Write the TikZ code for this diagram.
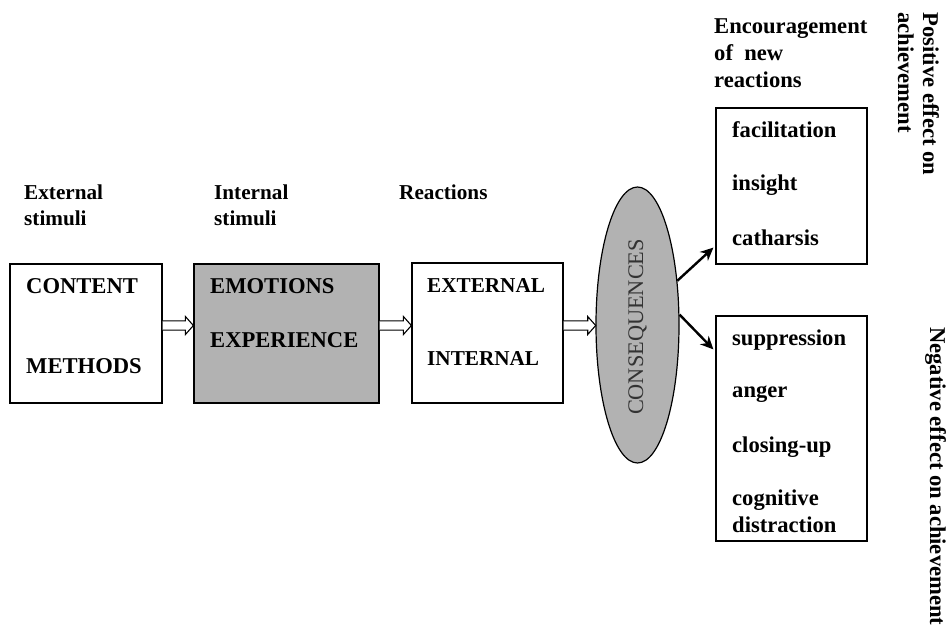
\documentclass[tikz,border=0pt]{standalone}
\usepackage{fontspec}
\setmainfont{Liberation Serif}
\usetikzlibrary{calc,shapes.geometric,arrows.meta}
\definecolor{boxgray}{HTML}{B2B2B2}
\definecolor{txtgray}{HTML}{333333}
\begin{document}
\begin{tikzpicture}[x=1pt,y=-1pt,
 every node/.style={inner sep=0pt},
 fbig/.style={font=\fontsize{22.6}{27}\selectfont\bfseries, anchor=base west},
 fsmall/.style={font=\fontsize{21.2}{26}\selectfont\bfseries, anchor=base west},
 box/.style={draw, line width=1.2pt, inner sep=0pt},
 hollow/.style={draw, fill=white, line width=1.1pt, line join=miter,
   to path={let \p1=(\tikztostart), \p2=(\tikztotarget) in
   (\x1,\y1+4.6pt) -- (\x2-8pt,\y1+4.6pt) -- (\x2-8pt,\y1+9pt) -- (\x2,\y1)
   -- (\x2-8pt,\y1-9pt) -- (\x2-8pt,\y1-4.6pt) -- (\x1,\y1-4.6pt)}},
 arr/.style={line width=2.4pt, -{Stealth[length=13pt,width=12pt]}}
]
\useasboundingbox (0,0) rectangle (946,625);

% boxes
\node[box, minimum width=152pt, minimum height=139pt] (b1) at (86,333.5) {};
\node[box, fill=boxgray, minimum width=185pt, minimum height=139pt] (b2) at (286.5,333.5) {};
\node[box, minimum width=151pt, minimum height=140pt] (b3) at (487.5,333) {};
\node[box, ellipse, fill=boxgray, minimum width=83pt, minimum height=276pt] (cons) at (637.5,325) {};
\node[box, minimum width=151pt, minimum height=156pt] (pos) at (791.5,186) {};
\node[box, minimum width=151pt, minimum height=225pt] (neg) at (791.5,428.5) {};

% headings
\node[fsmall] (h1a) at (24,199) {External};
\node[fsmall] (h1b) at (24,225) {stimuli};
\node[fsmall] (h2a) at (214,199) {Internal};
\node[fsmall] (h2b) at (214,225) {stimuli};
\node[fsmall] (h3a) at (399,199) {Reactions};
\node[fbig] (h4a) at (714,33) {Encouragement};
\node[fbig] (h4b) at (714,60) {of\ \ new};
\node[fbig] (h4c) at (714,87) {reactions};

% box texts
\node[fbig] (t1a) at (26,293) {CONTENT};
\node[fbig] (t1b) at (26,373) {METHODS};
\node[fbig] (t2a) at (210,293) {EMOTIONS};
\node[fbig] (t2b) at (210,347) {EXPERIENCE};
\node[fsmall] (t3a) at (427,292) {EXTERNAL};
\node[fsmall] (t3b) at (427,365) {INTERNAL};
\node[font=\fontsize{22.3}{26}\selectfont, text=txtgray, rotate=90] (ct) at (637.5,327) {CONSEQUENCES};

\node[fbig] (p1) at (732,137) {facilitation};
\node[fbig] (p2) at (732,190) {insight};
\node[fbig] (p3) at (732,245) {catharsis};

\node[fbig] (n1) at (732,345) {suppression};
\node[fbig] (n2) at (732,397) {anger};
\node[fbig] (n3) at (732,452) {closing-up};
\node[fbig] (n4) at (732,505) {cognitive};
\node[fbig] (n5) at (732,532) {distraction};

% rotated side labels
\node[fbig, rotate=-90] (r1) at (923,12) {Positive effect on};
\node[fbig, rotate=-90] (r2) at (898,12) {achievement};
\node[fbig, rotate=-90] (r3) at (930,327) {Negative effect on achievement};

% connectors
\draw[hollow] ($(b1.east)+(0,-8)$) to ($(b2.west)+(0,-8)$);
\draw[hollow] ($(b2.east)+(0,-8)$) to ($(b3.west)+(0,-8)$);
\draw[hollow] ($(b3.east)+(0,-7.5)$) to ($(cons.west)+(0.3,0)$);
\draw[arr] (cons.48) -- ($(pos.south west)+(-2,-17)$);
\draw[arr] (cons.14) -- ($(neg.north west)+(-2,34)$);
\end{tikzpicture}
\end{document}
